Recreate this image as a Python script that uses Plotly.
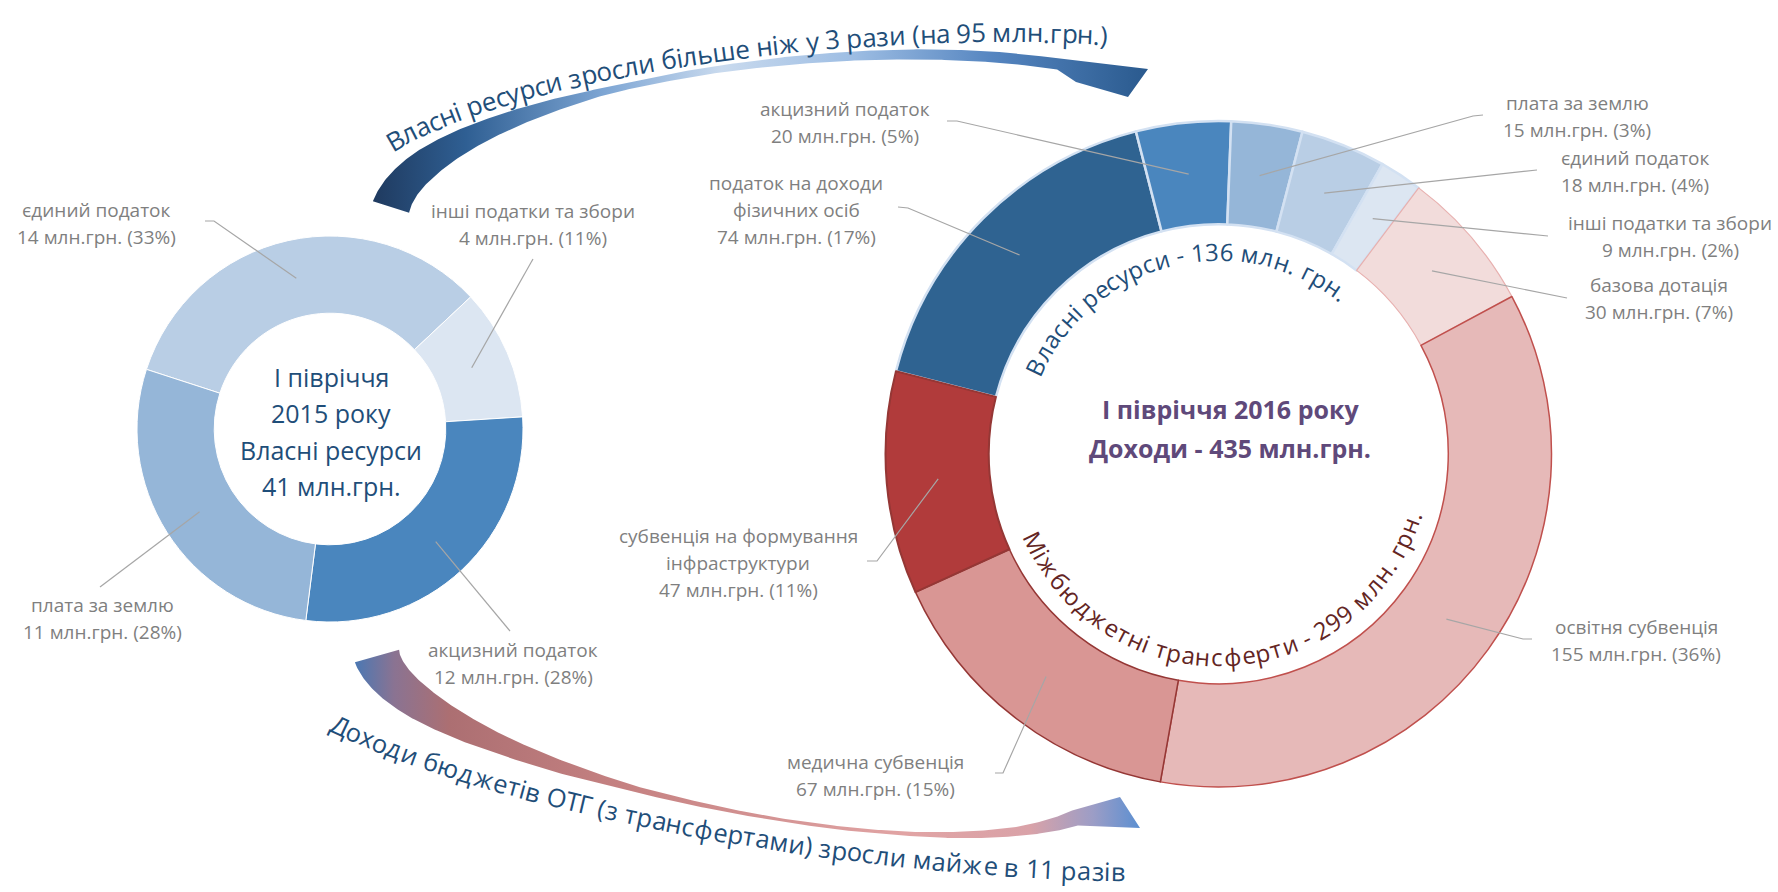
import math

import numpy as np
import plotly.graph_objects as go

# ── Data ──────────────────────────────────────────────────────────────────────
own15_names = ["єдиний податок", "інші податки та збори", "акцизний податок", "плата за землю"]
own15_mln = [14, 4, 12, 11]
own15_pct = [33, 11, 28, 28]
own15_total = 41

inc16_names = [
    "податок на доходи фізичних осіб", "акцизний податок", "плата за землю",
    "єдиний податок", "інші податки та збори", "базова дотація",
    "освітня субвенція", "медична субвенція", "субвенція на формування інфраструктури",
]
inc16_mln = [74, 20, 15, 18, 9, 30, 155, 67, 47]
inc16_pct = [17, 5, 3, 4, 2, 7, 36, 15, 11]
inc16_total = 435
own16_total = 136
transfers16_total = 299
own_growth_mln = 95

# ── Look ──────────────────────────────────────────────────────────────────────
W, H = 1778, 892
FONT = "Open Sans"
LABEL_GREY = "#7F7F7F"
NAVY = "#1F4E79"

L_CX, L_CY, L_R, L_HOLE, L_ROT = 330, 429, 193, 0.60, -72
R_CX, R_CY, R_R, R_HOLE, R_ROT = 1218.5, 454, 333, 0.69, -75.6

L_COLORS = ["#B9CEE5", "#DCE6F2", "#4A86BE", "#95B6D8"]
R_COLORS = ["#2F6391", "#4A86BE", "#95B6D8", "#B9CEE5", "#DCE6F2",
            "#F2DCDB", "#E6B9B8", "#D99694", "#B13B3B"]
R_LINE_COLORS = ["#D3E1F2"] * 5 + ["#E8B0AF", "#C0504D", "#953735", "#953735"]
R_LINE_WIDTHS = [2.5] * 5 + [1.2, 1.5, 1.5, 2]

LINE_BREAKS = {
    "податок на доходи фізичних осіб": ["податок на доходи", "фізичних осіб"],
    "субвенція на формування інфраструктури": ["субвенція на формування", "інфраструктури"],
}

# label centre x, first-line y, label-side leader points (anchor is computed)
LABELS_15 = {
    "єдиний податок":        dict(x=96,  y=210, leader=[(205, 221), (214, 221)]),
    "інші податки та збори": dict(x=533, y=211, leader=[(533, 259)]),
    "акцизний податок":      dict(x=513, y=650, leader=[(510, 631)]),
    "плата за землю":        dict(x=102, y=605, leader=[(100, 587)]),
}
LABELS_16 = {
    "податок на доходи фізичних осіб": dict(x=796, y=183, leader=[(898, 207), (908, 208)]),
    "акцизний податок":      dict(x=845, y=109, leader=[(947, 121), (957, 121)]),
    "плата за землю":        dict(x=1577, y=103, leader=[(1483, 115), (1473, 116)]),
    "єдиний податок":        dict(x=1635, y=158, leader=[(1537, 170)]),
    "інші податки та збори": dict(x=1670, y=223, leader=[(1548, 236)]),
    "базова дотація":        dict(x=1659, y=285, leader=[(1567, 298)]),
    "освітня субвенція":     dict(x=1636, y=627, leader=[(1532, 639), (1523, 639)]),
    "медична субвенція":     dict(x=875, y=762, leader=[(995, 773), (1003, 773)]),
    "субвенція на формування інфраструктури": dict(x=738, y=536, leader=[(867, 561), (877, 561)]),
}

TOP_SCALE = [[0, "#1F3A5F"], [0.12, "#2F5F93"], [0.3, "#7EA6D4"], [0.45, "#C9DAEE"],
             [0.62, "#9DBDE3"], [0.8, "#5585C0"], [1, "#2A5A8E"]]
BOT_SCALE = [[0, "#4B78B3"], [0.05, "#8A7392"], [0.12, "#AC6F72"], [0.35, "#C68282"],
             [0.7, "#E1A4A4"], [0.86, "#D9A2A8"], [0.94, "#9C9DC6"], [1, "#5B8FD1"]]

CHAR_EM = {
    " ": .26, ".": .27, "-": .32, "(": .3, ")": .3, "%": .83,
    "а": .56, "б": .61, "в": .59, "г": .47, "д": .6, "е": .56, "є": .53, "ж": .84,
    "з": .51, "и": .64, "й": .64, "і": .25, "к": .55, "л": .6, "м": .76, "н": .63,
    "о": .6, "п": .63, "р": .61, "с": .48, "т": .49, "у": .5, "ф": .78, "х": .52,
    "ц": .64, "ч": .59, "ш": .93, "ь": .57, "ю": .86, "я": .56,
    "В": .64, "Д": .65, "М": .89, "О": .78, "Т": .54, "Г": .5,
}


# ── Helpers ───────────────────────────────────────────────────────────────────
def char_w(c):
    if c.isdigit():
        return .57
    return CHAR_EM.get(c, .65 if c.isupper() else .58)


def pie_domain(cx, cy, r):
    return dict(x=[(cx - r) / W, (cx + r) / W], y=[1 - (cy + r) / H, 1 - (cy - r) / H])


def mid_angles(values, rotation):
    total, acc, out = sum(values), rotation, []
    for v in values:
        span = 360 * v / total
        out.append(acc + span / 2)
        acc += span
    return out


def polar(cx, cy, r, deg):
    a = math.radians(deg)
    return cx + r * math.sin(a), cy - r * math.cos(a)


def bezier(ctrl, n=300):
    p0, p1, p2, p3 = (np.array(q, float) for q in ctrl)
    t = np.linspace(0, 1, n)[:, None]
    pts = (1 - t) ** 3 * p0 + 3 * (1 - t) ** 2 * t * p1 + 3 * (1 - t) * t ** 2 * p2 + t ** 3 * p3
    der = 3 * (1 - t) ** 2 * (p1 - p0) + 6 * (1 - t) * t * (p2 - p1) + 3 * t ** 2 * (p3 - p2)
    return t[:, 0], pts, der


def arrow_polygon(ctrl, knots, half_w, head):
    t, pts, der = bezier(ctrl)
    unit = der / np.linalg.norm(der, axis=1)[:, None]
    nrm = np.column_stack([-unit[:, 1], unit[:, 0]])
    hw = np.interp(t, knots, half_w)[:, None]
    side_a, side_b = pts - nrm * hw, pts + nrm * hw
    poly = np.vstack([side_a, np.array(head, float), side_b[::-1], side_a[:1]])
    return poly[:, 0], poly[:, 1]


def text_on_path(text, pts, size, color):
    """One annotation per glyph, first/last glyph centres on the path ends."""
    seg = np.hypot(*np.diff(pts, axis=0).T)
    s = np.concatenate([[0], np.cumsum(seg)])
    widths = np.array([char_w(c) for c in text]) * size
    centres = np.cumsum(widths) - widths / 2
    pos = (centres - centres[0]) / (centres[-1] - centres[0]) * s[-1]
    dx = np.gradient(pts[:, 0], s)
    dy = np.gradient(pts[:, 1], s)
    out = []
    for c, p in zip(text, pos):
        if c == " ":
            continue
        x, y = np.interp(p, s, pts[:, 0]), np.interp(p, s, pts[:, 1])
        ang = math.degrees(math.atan2(np.interp(p, s, dy), np.interp(p, s, dx)))
        out.append(dict(
            x=x, y=y, xref="x", yref="y", text=c,
            showarrow=False, textangle=ang, xanchor="center", yanchor="middle",
            font=dict(family=FONT, size=size, color=color),
        ))
    return out


def arc_points(cx, cy, r, a0, a1, n=240):
    a = np.radians(np.linspace(a0, a1, n))
    return np.column_stack([cx + r * np.sin(a), cy - r * np.cos(a)])


def text_line(x, y, text, size, color, bold=False):
    return dict(x=x, y=y, xref="x", yref="y", text=f"<b>{text}</b>" if bold else text,
                showarrow=False, xanchor="center", yanchor="middle",
                font=dict(family=FONT, size=size, color=color))


def donut_labels(names, mln, pct, slice_vals, spec, cx, cy, r, hole, rotation):
    annots, shapes = [], []
    r_mid = r * (1 + hole) / 2
    for name, m, p, ang in zip(names, mln, pct, mid_angles(slice_vals, rotation)):
        cfg = spec[name]
        lines = LINE_BREAKS.get(name, [name]) + [f"{m} млн.грн. ({p}%)"]
        for i, ln in enumerate(lines):
            annots.append(text_line(cfg["x"], cfg["y"] + 27 * i, ln, 19, LABEL_GREY))
        pts = cfg["leader"] + [polar(cx, cy, r_mid, ang)]
        path = "M " + " L ".join(f"{x:.1f},{y:.1f}" for x, y in pts)
        shapes.append(dict(type="path", path=path, xref="x", yref="y", layer="above",
                           line=dict(color="#A6A6A6", width=1.2)))
    return annots, shapes


# ── Figure ────────────────────────────────────────────────────────────────────
fig = go.Figure()

# curved arrows (cartesian layer, below the donuts)
top_x, top_y = arrow_polygon(
    [(391, 207), (424, 102), (812, 27), (1058, 64)],
    [0, 0.15, 0.3, 0.45, 0.6, 0.8, 1.0], [19, 15, 9, 3.5, 3.5, 5, 5.5],
    [(1148, 69), (1128, 97), (1076, 82)],
)
bot_x, bot_y = arrow_polygon(
    [(377, 656), (407, 760), (913, 880), (1075, 818)],
    [0, 0.15, 0.3, 0.45, 0.6, 0.75, 0.9, 1.0], [23, 17, 9, 3, 1.5, 2, 4.5, 8],
    [(1120, 797), (1140, 828)],
)
for xs, ys, scale in [(top_x, top_y, TOP_SCALE), (bot_x, bot_y, BOT_SCALE)]:
    fig.add_trace(go.Scatter(
        x=xs, y=ys, mode="lines", line=dict(width=0), fill="toself",
        fillgradient=dict(type="horizontal", colorscale=scale),
        hoverinfo="skip", showlegend=False,
    ))

fig.add_trace(go.Pie(
    values=own15_pct, labels=own15_names, sort=False, direction="clockwise",
    rotation=L_ROT, hole=L_HOLE, domain=pie_domain(L_CX, L_CY, L_R),
    marker=dict(colors=L_COLORS, line=dict(color="white", width=1)),
    textinfo="none", hoverinfo="skip", showlegend=False,
))
fig.add_trace(go.Pie(
    values=inc16_mln, labels=inc16_names, sort=False, direction="clockwise",
    rotation=R_ROT, hole=R_HOLE, domain=pie_domain(R_CX, R_CY, R_R),
    marker=dict(colors=R_COLORS, line=dict(color=R_LINE_COLORS, width=R_LINE_WIDTHS)),
    textinfo="none", hoverinfo="skip", showlegend=False,
))

annots, shapes = [], []
a, s = donut_labels(own15_names, own15_mln, own15_pct, own15_pct, LABELS_15,
                    L_CX, L_CY, L_R, L_HOLE, L_ROT)
annots += a
shapes += s
a, s = donut_labels(inc16_names, inc16_mln, inc16_pct, inc16_mln, LABELS_16,
                    R_CX, R_CY, R_R, R_HOLE, R_ROT)
annots += a
shapes += s

# centre texts
for i, ln in enumerate(["І півріччя", "2015 року", "Власні ресурси", f"{own15_total} млн.грн."]):
    annots.append(text_line(331, 377 + 36.3 * i, ln, 25, NAVY))
annots.append(text_line(1230, 409, "І півріччя 2016 року", 25, "#5F497A", bold=True))
annots.append(text_line(1230, 448, f"Доходи - {inc16_total} млн.грн.", 25, "#5F497A", bold=True))

# text bent along the inner rim of the 2016 donut
annots += text_on_path(f"Власні ресурси - {own16_total} млн. грн.",
                       arc_points(R_CX, R_CY, 203, 295.5, 397.8), 24, NAVY)
annots += text_on_path(f"Міжбюджетні трансферти - {transfers16_total} млн. грн.",
                       arc_points(R_CX, R_CY, 203, 244.3, 107.5), 24, "#632523")

# text along the arrows
_, top_path, _ = bezier([(395, 140), (525, 65), (854, 20), (1104, 35)], 400)
annots += text_on_path(f"Власні ресурси зросли більше ніж у 3 рази (на {own_growth_mln} млн.грн.)",
                       top_path, 26, NAVY)
_, bot_path, _ = bezier([(340, 725), (520, 810), (868, 867), (1118, 871)], 400)
annots += text_on_path("Доходи бюджетів ОТГ (з трансфертами) зросли майже в 11 разів",
                       bot_path, 25.5, NAVY)

fig.update_layout(
    width=W, height=H, margin=dict(l=0, r=0, t=0, b=0, pad=0),
    paper_bgcolor="white", plot_bgcolor="white",
    xaxis=dict(range=[0, W], visible=False, fixedrange=True),
    yaxis=dict(range=[H, 0], visible=False, fixedrange=True),
    shapes=shapes, annotations=annots, showlegend=False,
)

fig.write_html("out.html", config={"displayModeBar": False},
               post_script="document.body.style.margin='0';")
